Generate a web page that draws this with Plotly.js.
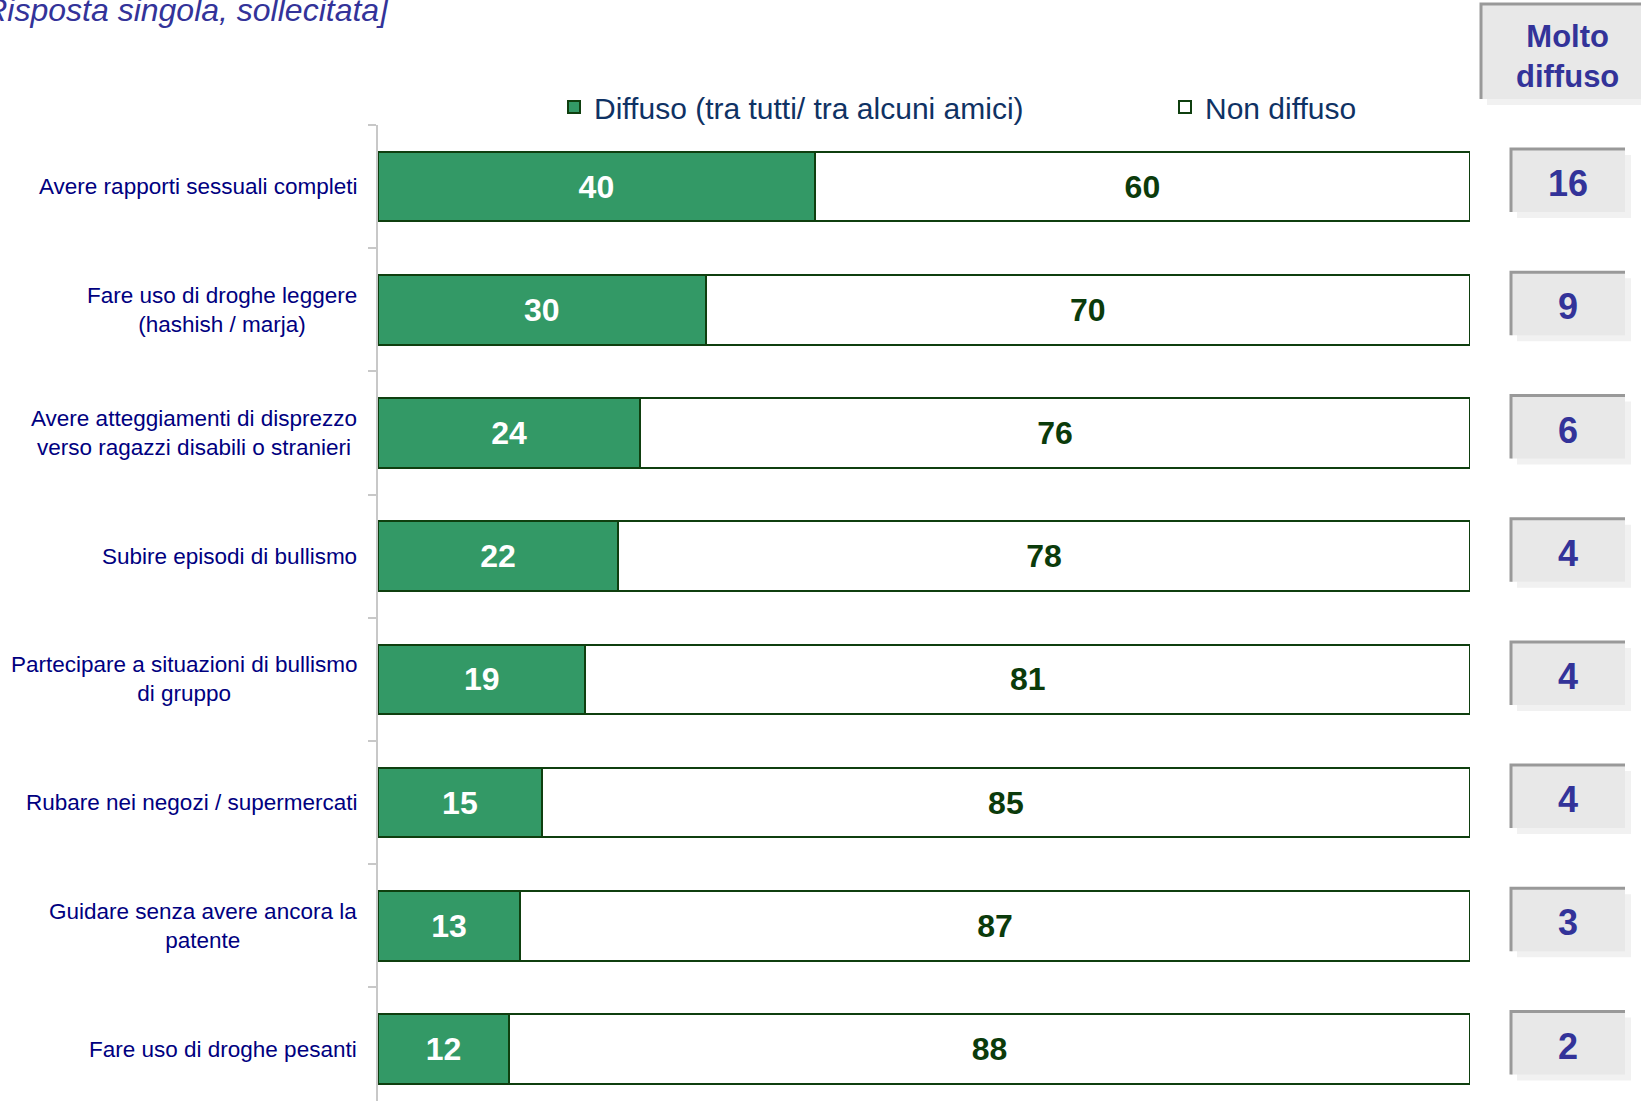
<!DOCTYPE html>
<html><head><meta charset="utf-8">
<script src="https://cdn.plot.ly/plotly-3.0.1.min.js"></script>
<style>html,body{margin:0;padding:0;overflow:hidden;background:#fff}</style>
</head><body><div id="chart" style="width:1641px;height:1101px"></div>
<script>
const categories = [
  "Avere rapporti sessuali completi",
  "Fare uso di droghe leggere<br>(hashish / marja)",
  "Avere atteggiamenti di disprezzo<br>verso ragazzi disabili o stranieri",
  "Subire episodi di bullismo",
  "Partecipare a situazioni di bullismo<br>di gruppo",
  "Rubare nei negozi / supermercati",
  "Guidare senza avere ancora la<br>patente",
  "Fare uso di droghe pesanti"
];
const diffuso = [40, 30, 24, 22, 19, 15, 13, 12];
const nonDiffuso = [60, 70, 76, 78, 81, 85, 87, 88];
const moltoDiffuso = [16, 9, 6, 4, 4, 4, 3, 2];
const seriesNames = ["Diffuso (tra tutti/ tra alcuni amici)", "Non diffuso"];
const titleText = "[Risposta singola, sollecitata]";
const moltoHeader = "Molto<br>diffuso";

const FONT = "Liberation Sans, Arial, sans-serif";
const W = 1641, H = 1101;
const ML = 378, MR = 171, MT = 125, MB = 0;
const PW = W - ML - MR, PH = H - MT - MB;
const CAT_PX = 123.2;
const px2paperX = p => (p - ML) / PW;
const py2paperY = p => (H - MB - p) / PH;

const traces = [
  {
    type: "bar", orientation: "h", name: seriesNames[0], legendwidth: 566,
    y: categories, x: diffuso,
    text: diffuso.map(String), textposition: "inside", insidetextanchor: "middle",
    textangle: 0, constraintext: "none",
    textfont: {family: FONT, size: 32, color: "#ffffff", weight: "bold"},
    marker: {color: "#339966", line: {color: "#0f3f0f", width: 2}},
    hoverinfo: "skip"
  },
  {
    type: "bar", orientation: "h", name: seriesNames[1], legendwidth: 200,
    y: categories, x: nonDiffuso,
    text: nonDiffuso.map(String), textposition: "inside", insidetextanchor: "middle",
    textangle: 0, constraintext: "none",
    textfont: {family: FONT, size: 32, color: "#0b3b0b", weight: "bold"},
    marker: {color: "#ffffff", line: {color: "#0f3f0f", width: 2}},
    hoverinfo: "skip"
  }
];

function boxShapes(xcPx, w, h, yref, yanchor, yoff) {
  const xa = px2paperX(xcPx);
  const base = {xref: "paper", xsizemode: "pixel", xanchor: xa,
                yref: yref, ysizemode: "pixel", yanchor: yanchor, layer: "above"};
  const l = -w / 2, r = w / 2;
  const b = yoff - h / 2, t = yoff + h / 2;
  return [
    Object.assign({}, base, {type: "rect", x0: l + 6, x1: r + 6, y0: b - 6, y1: t - 6,
      fillcolor: "#f1f1f1", line: {width: 0}}),
    Object.assign({}, base, {type: "rect", x0: l, x1: r, y0: b, y1: t,
      fillcolor: "#e8e8e8", line: {width: 0}}),
    Object.assign({}, base, {type: "path",
      path: `M${l},${b} L${l},${t} L${r},${t}`,
      line: {color: "#999999", width: 3}})
  ];
}

const BOX_XC = 1568, BOX_W = 114, BOX_H = 63, BOX_YOFF = 6;
let shapes = [];
shapes = shapes.concat(boxShapes(1565.5, 169, 95, "paper", py2paperY(51.5), 0));
categories.forEach((c) => {
  shapes = shapes.concat(boxShapes(BOX_XC, BOX_W, BOX_H, "y", c, BOX_YOFF));
});

const annotations = [];
categories.forEach((c, i) => {
  annotations.push({
    xref: "paper", x: px2paperX(359), xanchor: "right",
    yref: "y", y: c, yanchor: "middle",
    text: c, align: "center", showarrow: false,
    font: {family: FONT, size: 22.5, color: "#000080"}
  });
  annotations.push({
    xref: "paper", x: px2paperX(BOX_XC), xanchor: "center",
    yref: "y", y: c, yanchor: "middle", yshift: BOX_YOFF - 3,
    text: String(moltoDiffuso[i]), showarrow: false,
    font: {family: FONT, size: 36, color: "#333399", weight: "bold"}
  });
});
annotations.push({
  xref: "paper", x: px2paperX(1567), xanchor: "center",
  yref: "paper", y: py2paperY(56), yanchor: "middle",
  text: moltoHeader, align: "center", showarrow: false,
  font: {family: FONT, size: 31, color: "#333399", weight: "bold"}
});

const layout = {
  width: W, height: H, autosize: false,
  margin: {l: ML, r: MR, t: MT, b: MB, pad: 0, autoexpand: false},
  paper_bgcolor: "#ffffff", plot_bgcolor: "#ffffff",
  font: {family: FONT},
  title: {
    text: titleText, xref: "container", x: 388 / W, xanchor: "right",
    yref: "container", y: 1 - 10 / H, yanchor: "middle",
    font: {family: FONT, size: 32, style: "italic", color: "#333399"}
  },
  barmode: "stack", bargap: 0.435,
  showlegend: true,
  legend: {
    orientation: "h", x: px2paperX(554), xanchor: "left",
    y: py2paperY(107), yanchor: "middle",
    font: {family: FONT, size: 30, color: "#0f3264"},
    traceorder: "normal",
    bgcolor: "rgba(0,0,0,0)", borderwidth: 0
  },
  xaxis: {range: [0, 100], visible: false, fixedrange: true},
  yaxis: {
    type: "category", categoryorder: "array", categoryarray: categories,
    range: [-0.5 + PH / CAT_PX, -0.5],
    showticklabels: false, ticks: "outside", tickson: "boundaries",
    ticklen: 8, tickwidth: 2, tickcolor: "#c8c8c8",
    showline: true, linecolor: "#c8c8c8", linewidth: 2,
    showgrid: false, zeroline: false, fixedrange: true
  },
  hovermode: false,
  shapes: shapes,
  annotations: annotations
};

Plotly.newPlot("chart", traces, layout, {displayModeBar: false, staticPlot: true});
</script>
</body></html>
